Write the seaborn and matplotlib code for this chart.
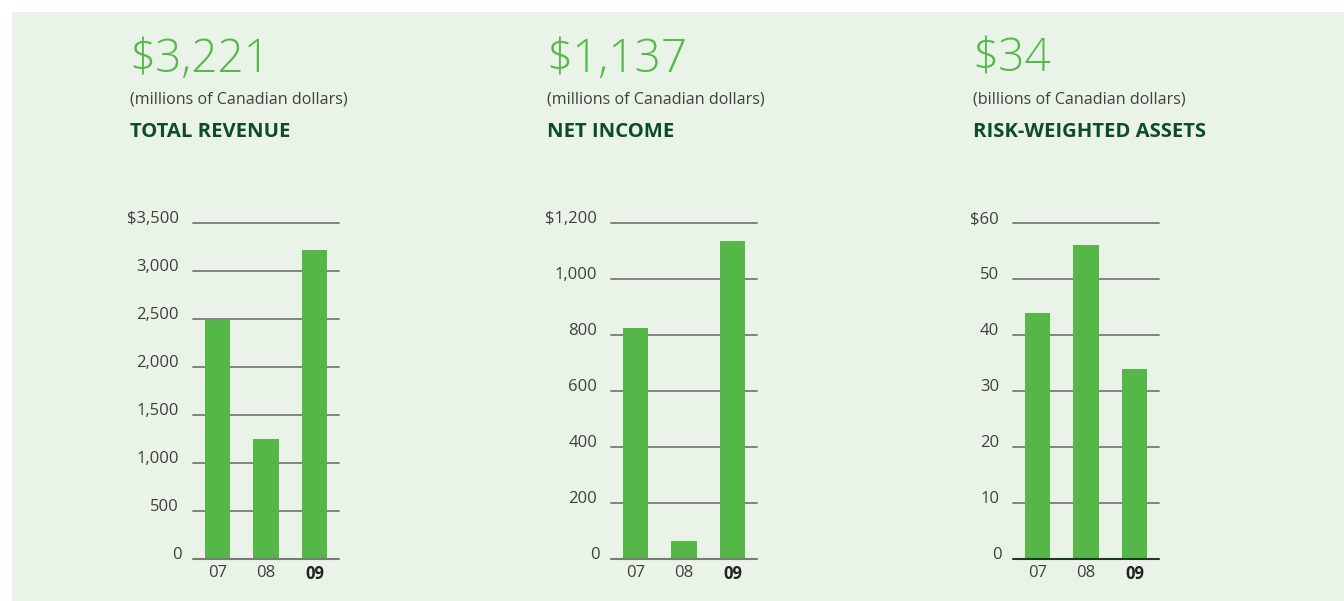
import matplotlib
matplotlib.use("Agg")
import matplotlib.pyplot as plt
import seaborn as sns
import pandas as pd
from matplotlib.patches import Rectangle

years = ["07", "08", "09"]
revenue = [2490, 1250, 3221]
net_income = [825, 64, 1137]
rwa = [44, 56, 34]

headline = ["$3,221", "$1,137", "$34"]
units = ["(millions of Canadian dollars)", "(millions of Canadian dollars)", "(billions of Canadian dollars)"]
titles = ["TOTAL REVENUE", "NET INCOME", "RISK-WEIGHTED ASSETS"]
yticks = [[0, 500, 1000, 1500, 2000, 2500, 3000, 3500],
          [0, 200, 400, 600, 800, 1000, 1200],
          [0, 10, 20, 30, 40, 50, 60]]
ytick_labels = [["0", "500", "1,000", "1,500", "2,000", "2,500", "3,000", "$3,500"],
                ["0", "200", "400", "600", "800", "1,000", "$1,200"],
                ["0", "10", "20", "30", "40", "50", "$60"]]
series = [revenue, net_income, rwa]

sns.set_theme(style="white")
plt.rcParams["font.family"] = ["Open Sans", "DejaVu Sans"]

BG = "#EAF3E7"
BAR = "#55B748"
HEAD = "#55B948"
DARK = "#0D4A2E"
TXT = "#404040"
GRID = "#7A7A7A"

W, H = 1344, 601
fig = plt.figure(figsize=(W / 100, H / 100), dpi=100)
fig.patch.set_facecolor("white")
fig.add_artist(Rectangle((12 / W, 0), 1 - 12 / W, 1 - 12 / H, transform=fig.transFigure,
                         facecolor=BG, edgecolor="none", zorder=0))

ax_lefts = [193, 611, 1013]
text_lefts = [129, 546, 972]
zero_colors = [GRID, GRID, "#1F3A2A"]

for i in range(3):
    l = ax_lefts[i]
    ax = fig.add_axes([l / W, (H - 559) / H, 146 / W, 336 / H])
    ax.set_facecolor("none")
    df = pd.DataFrame({"year": years, "value": series[i]})
    sns.barplot(data=df, x="year", y="value", order=years, color=BAR, saturation=1,
                width=0.52, ax=ax, zorder=2, edgecolor="none")
    ax.set_xlim(-0.505, 2.505)
    ax.set_ylim(0, yticks[i][-1])
    ax.set_yticks(yticks[i][1:])
    ax.set_yticklabels(ytick_labels[i][1:])
    ax.yaxis.grid(True, color=GRID, linewidth=1.3, zorder=1)
    ax.set_axisbelow(True)
    for gl in ax.get_ygridlines():
        gl.set_clip_on(False)
    ax.axhline(0, color=zero_colors[i], linewidth=1.5, zorder=3, clip_on=False)
    ax.text(-0.08, 0, ytick_labels[i][0], transform=ax.get_yaxis_transform(),
            ha="right", va="baseline", fontsize=12, color=TXT)
    for s in ax.spines.values():
        s.set_visible(False)
    ax.tick_params(axis="both", length=0, labelsize=12, labelcolor=TXT)
    ax.tick_params(axis="y", pad=10)
    ax.tick_params(axis="x", pad=4)
    for lbl in ax.get_yticklabels():
        lbl.set_va("baseline")
    for lbl in ax.get_xticklabels():
        if lbl.get_text() == "09":
            lbl.set_fontweight("bold")
            lbl.set_color("#222222")
    ax.set_xlabel("")
    ax.set_ylabel("")

    tx = text_lefts[i] / W
    fig.text(tx, 1 - 72 / H, headline[i], fontsize=33, fontweight="light", color=HEAD,
             ha="left", va="baseline")
    fig.text(tx + 1 / W, 1 - 103 / H, units[i], fontsize=11.6, color=TXT, ha="left", va="baseline")
    fig.text(tx + 1 / W, 1 - 137 / H, titles[i], fontsize=14.6, fontweight="bold", color=DARK,
             ha="left", va="baseline")

fig.savefig("out.png", dpi=100, facecolor="white")
